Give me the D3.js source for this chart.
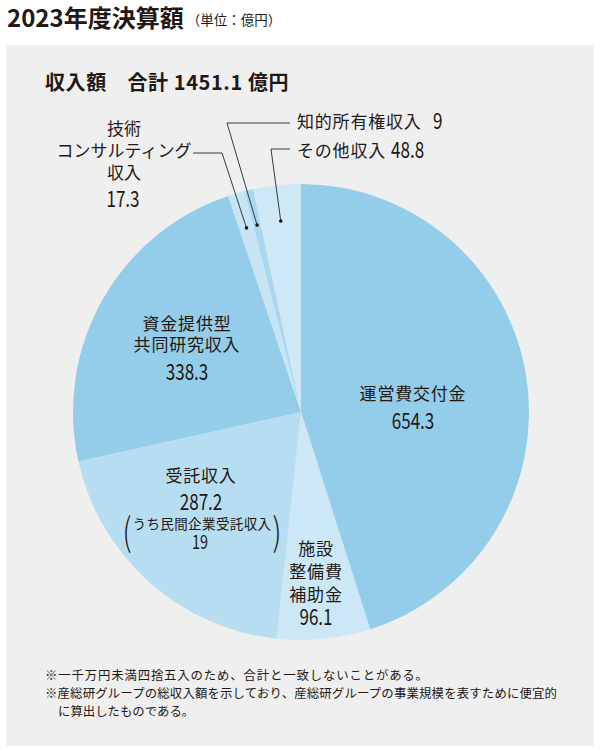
<!DOCTYPE html>
<html><head><meta charset="utf-8">
<script src="https://cdn.jsdelivr.net/npm/d3@7"></script>
<style>
html,body{margin:0;padding:0;background:#fff;}
svg{display:block;}
text{font-family:"Noto Sans CJK JP","Noto Sans",sans-serif;fill:#231815;}
</style></head>
<body>
<svg id="chart" width="600" height="751"></svg>
<script>
// ---- data ----
const title = "2023年度決算額";
const unitLabel = "（単位：億円）";
const headline = "収入額　合計 1451.1 億円";
const categories = ["運営費交付金","施設整備費補助金","受託収入","資金提供型共同研究収入","技術コンサルティング収入","知的所有権収入","その他収入"];
const values = [654.3, 96.1, 287.2, 338.3, 17.3, 9, 48.8];
const valueLabels = ["654.3","96.1","287.2","338.3","17.3","9","48.8"];
const nameLines = [["運営費交付金"],["施設","整備費","補助金"],["受託収入"],["資金提供型","共同研究収入"],["技術","コンサルティング","収入"],["知的所有権収入"],["その他収入"]];
const subNote = "うち民間企業受託収入";
const subValue = "19";
const colors = ["#93cde9","#cce7f5","#b7ddf0","#93cde9","#c6e4f4","#a9d7ef","#cfe8f6"];
const footnotes = ["※一千万円未満四捨五入のため、合計と一致しないことがある。","※産総研グループの総収入額を示しており、産総研グループの事業規模を表すために便宜的","に算出したものである。"];

// ---- layout ----
const svg = d3.select("#chart");
const cx = 301, cy = 412, R = 228;

svg.append("rect").attr("x",6).attr("y",45).attr("width",588).attr("height",701).attr("fill","#efefef");

// title
const t = svg.append("text").attr("x",7).attr("y",27);
t.append("tspan").attr("font-size",24).attr("font-weight",700).text(title);
t.append("tspan").attr("font-size",13.5).attr("dx",3).attr("dy",-2).text(unitLabel);

svg.append("text").attr("x",45).attr("y",90).attr("font-size",20).attr("font-weight",700)
  .attr("letter-spacing",0.6).text(headline);

// pie
const pie = d3.pie().sort(null).value(d=>d);
const arcs = pie(values);
const arc = d3.arc().innerRadius(0).outerRadius(R);
const g = svg.append("g").attr("transform",`translate(${cx},${cy})`);
g.selectAll("path").data(arcs).enter().append("path")
  .attr("d",arc).attr("fill",(d,i)=>colors[i]);

// helpers
function nameText(x,y,str,size){
  return svg.append("text").attr("x",x).attr("y",y).attr("text-anchor","middle")
    .attr("font-size",size||17).attr("letter-spacing",0.8).text(str);
}
function numText(x,y,str,size,anchor){
  return svg.append("g").attr("transform",`translate(${x},${y}) scale(0.76,1)`)
    .append("text").attr("text-anchor",anchor||"middle").attr("font-size",size||22.5)
    .attr("font-weight",400).text(str);
}

// inside labels
const inside = [
  {i:0, x:413, y:400, step:21, vy:429},
  {i:1, x:316, y:555, step:23, vy:625},
  {i:3, x:187, y:330, step:21, vy:380},
  {i:2, x:201, y:482, step:21, vy:510},
];
inside.forEach(p=>{
  nameLines[p.i].forEach((s,k)=>nameText(p.x,p.y+k*p.step,s));
  numText(p.x,p.vy,valueLabels[p.i]);
});
// sub note in 受託収入
nameText(202,529,subNote,13.5).attr("letter-spacing",0.4);
numText(200,549,subValue,19);
svg.append("g").attr("transform","translate(127,546) scale(0.75,1)").append("text")
  .attr("text-anchor","middle").attr("font-size",38).attr("font-weight",300).text("(");
svg.append("g").attr("transform","translate(277,546) scale(0.75,1)").append("text")
  .attr("text-anchor","middle").attr("font-size",38).attr("font-weight",300).text(")");

// 技術 label (outside, left)
nameLines[4].forEach((s,k)=>nameText(124,135+k*22,s).attr("letter-spacing",0));
numText(123,207,valueLabels[4]);

// outside right labels
svg.append("text").attr("x",297).attr("y",128).attr("font-size",17).attr("letter-spacing",0.8).text(nameLines[5][0]);
numText(433,129,valueLabels[5],22.5,"start");
svg.append("text").attr("x",297).attr("y",157).attr("font-size",17).attr("letter-spacing",0.8).text(nameLines[6][0]);
numText(391,158,valueLabels[6],22.5,"start");

// leader lines
const leaders = [
  {i:4, ex:222, ey:153, hx:193},
  {i:5, ex:227, ey:123, hx:290},
  {i:6, ex:271, ey:149, hx:290},
];
const dotArc = d3.arc().innerRadius(192).outerRadius(192);
leaders.forEach(l=>{
  const c = dotArc.centroid(arcs[l.i]);
  const px = cx + c[0], py = cy + c[1];
  svg.append("polyline").attr("points",`${l.hx},${l.ey} ${l.ex},${l.ey} ${px},${py}`)
    .attr("fill","none").attr("stroke","#3a3a3a").attr("stroke-width",1);
  svg.append("circle").attr("cx",px).attr("cy",py).attr("r",1.8).attr("fill","#231815");
});

// footnotes
svg.append("text").attr("x",45).attr("y",680).attr("font-size",12.4)
  .attr("textLength",383).attr("lengthAdjust","spacing").text(footnotes[0]);
svg.append("text").attr("x",45).attr("y",698).attr("font-size",12.4)
  .attr("textLength",512).attr("lengthAdjust","spacing").text(footnotes[1]);
svg.append("text").attr("x",58).attr("y",716).attr("font-size",12.4).text(footnotes[2]);
</script>
</body></html>
